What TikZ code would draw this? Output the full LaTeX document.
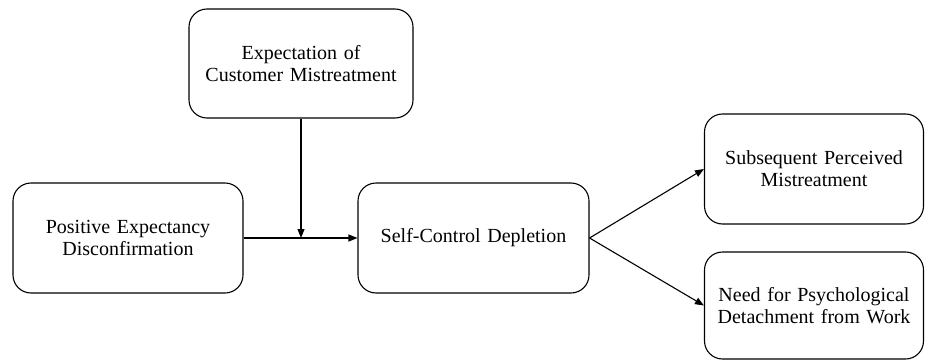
\documentclass[tikz,border=0pt]{standalone}
\usepackage{fontspec}
\setmainfont{Liberation Serif}
\usetikzlibrary{arrows.meta,positioning,calc}

\begin{document}
\begin{tikzpicture}[
    x=1pt, y=1pt,
    box/.style={draw, rounded corners=18pt, line width=1.1pt,
                minimum height=110pt, align=center,
                font=\fontsize{20}{22}\selectfont},
    arr/.style={-{Triangle[length=9pt,width=7pt]}, line width=1.1pt}
]
    \useasboundingbox (0,0) rectangle (925,-361);

    \node[box, minimum width=224pt, minimum height=109pt, text width=210pt] (expect) at (301,-63.5)  {Expectation of\\Customer Mistreatment};
    \node[box, minimum width=230pt, text width=215pt] (posexp)    at (128,-238)   {Positive Expectancy\\Disconfirmation};
    \node[box, minimum width=231pt, text width=215pt] (depletion) at (473.5,-238) {Self-Control Depletion};
    \node[box, minimum width=219pt, text width=210pt] (subseq)    at (814,-169)   {Subsequent Perceived\\Mistreatment};
    \node[box, minimum width=219pt, minimum height=107pt, text width=210pt] (need) at (814,-305.5) {Need for Psychological\\Detachment from Work};

    \coordinate (join) at (expect.south |- posexp.east);

    \draw[arr] (posexp) -- (depletion);
    \draw[arr] (expect) -- (join);
    \draw[arr] (depletion.east) -- (subseq.west);
    \draw[arr] (depletion.east) -- (need.west);
\end{tikzpicture}
\end{document}
